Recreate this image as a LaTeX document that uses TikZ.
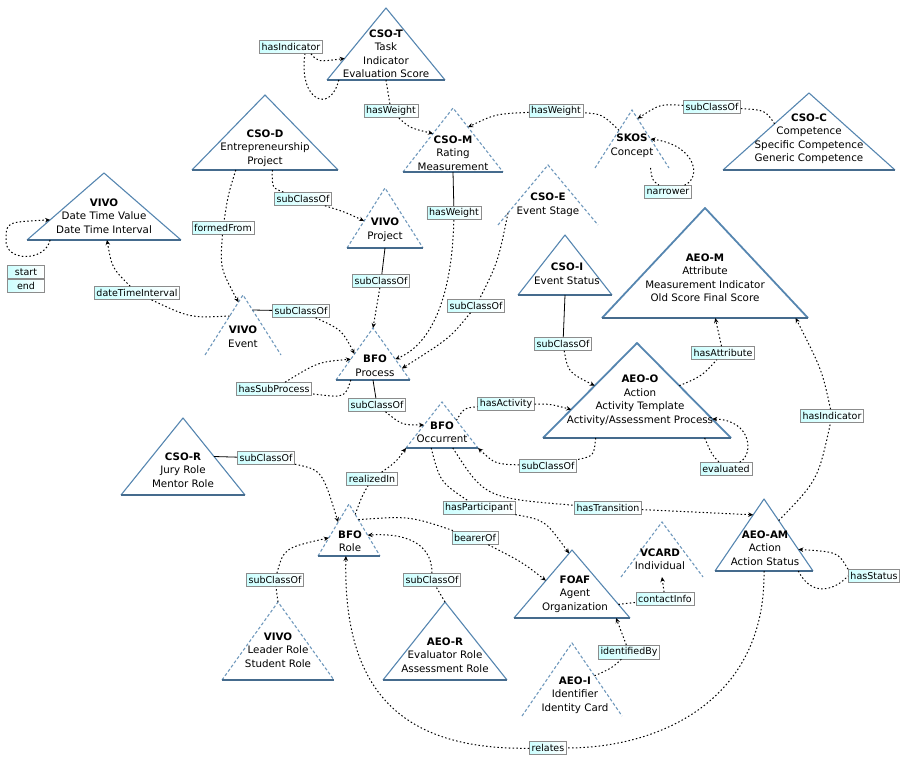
\documentclass[tikz,border=0pt]{standalone}
\usepackage{fontspec}
\setmainfont{DejaVu Sans}
\usetikzlibrary{arrows.meta, positioning, calc}

\definecolor{triblue}{RGB}{86,134,176}
\newcommand\trifont{\fontsize{10.3}{13.5}\selectfont}
\newcommand\lblfont{\fontsize{9.5}{11}\selectfont}
% triangle: name, x, base y, half width, height, style
\newcommand\ontri[6]{%
  \coordinate (#1-a) at (#2,#3-#5);
  \coordinate (#1-l) at (#2-#4,#3);
  \coordinate (#1-r) at (#2+#4,#3);
  \coordinate (#1-b) at (#2,#3);
  \draw[#6] (#1-l) -- (#1-a) -- (#1-r);
  \draw[#6 base] (#1-l) -- (#1-r);
}

\tikzset{
  tri solid/.style={draw=triblue, line width=1.1pt, line join=round},
  tri solid base/.style={draw=triblue!80!black, line width=2pt},
  tri bold/.style={draw=triblue, line width=1.8pt, line join=round},
  tri bold base/.style={draw=triblue!80!black, line width=2.6pt},
  tri dashed/.style={draw=triblue!85, line width=1.1pt, dash pattern=on 3pt off 2.2pt},
  tri dashed base/.style={draw=triblue!80!black, line width=2pt},
  tri open/.style={tri dashed},
  tri open base/.style={draw=none},
  tritext/.style={align=center, font=\trifont, inner sep=0pt},
  lbl/.style={draw=black!45, line width=.6pt, left color=cyan!20, right color=white,
    font=\lblfont, inner sep=2.2pt, minimum height=13pt},
  rel line/.style={line width=1pt, dash pattern=on 1.5pt off 2.3pt},
  rel/.style={rel line, -{Stealth[length=5pt,width=4.5pt]}},
  rel solid/.style={line width=.8pt},
}

\begin{document}
\begin{tikzpicture}[x=1pt, y=-1pt]
  \useasboundingbox (0,0) rectangle (905,759);

  % ontology modules
  \ontri{csot}{386}{80}{59}{72}{tri solid}
  \ontri{csod}{265}{170}{73}{75}{tri solid}
  \ontri{vivodt}{104}{240}{77}{67}{tri solid}
  \ontri{vivoproj}{385}{248}{38}{60}{tri dashed}
  \ontri{csom}{453}{172}{50}{64}{tri dashed}
  \ontri{skos}{632}{168}{37}{58}{tri open}
  \ontri{csoc}{809}{170}{86}{77}{tri solid}
  \ontri{csoe}{548}{225}{50}{60}{tri open}
  \ontri{csoi}{565}{295}{47}{60}{tri solid}
  \ontri{aeom}{705}{318}{103}{110}{tri bold}
  \ontri{vivoev}{243}{355}{38}{60}{tri open}
  \ontri{bfoproc}{373}{380}{37}{52}{tri dashed}
  \ontri{aeoo}{637}{438}{94}{95}{tri bold}
  \ontri{bfoocc}{442}{448}{36}{46}{tri dashed}
  \ontri{csor}{183}{495}{62}{77}{tri solid}
  \ontri{bforole}{349}{556}{31}{52}{tri dashed}
  \ontri{aeoam}{764}{571}{49}{72}{tri solid}
  \ontri{vcard}{662}{577}{41}{55}{tri open}
  \ontri{foaf}{572}{618}{58}{68}{tri solid}
  \ontri{vivorole}{278}{680}{56}{78}{tri dashed}
  \ontri{aeor}{445}{680}{62}{78}{tri solid}
  \ontri{aeoi}{572}{716}{50}{73}{tri open}

  \node[tritext] (csot) at (386,54) {\textbf{CSO-T}\\Task\\Indicator\\Evaluation Score};
  \node[tritext] (csod) at (265,148) {\textbf{CSO-D}\\Entrepreneurship\\Project};
  \node[tritext] (vivodt) at (104,216) {\textbf{VIVO}\\Date Time Value\\Date Time Interval};
  \node[tritext] (vivoproj) at (385,230) {\textbf{VIVO}\\Project};
  \node[tritext] (csom) at (453,153) {\textbf{CSO-M}\\Rating\\Measurement};
  \node[tritext] (skos) at (632,146) {\textbf{SKOS}\\Concept};
  \node[tritext] (csoc) at (809,139) {\textbf{CSO-C}\\Competence\\Specific Competence\\Generic Competence};
  \node[tritext] (csoe) at (548,205) {\textbf{CSO-E}\\Event Stage};
  \node[tritext] (csoi) at (567,274) {\textbf{CSO-I}\\Event Status};
  \node[tritext] (aeom) at (705,278) {\textbf{AEO-M}\\Attribute\\Measurement Indicator\\Old Score Final Score};
  \node[tritext] (vivoev) at (243,337) {\textbf{VIVO}\\Event};
  \node[tritext] (bfoproc) at (375,366) {\textbf{BFO}\\Process};
  \node[tritext] (aeoo) at (640,400) {\textbf{AEO-O}\\Action\\Activity Template\\Activity/Assessment Process};
  \node[tritext] (bfoocc) at (442,432) {\textbf{BFO}\\Occurrent};
  \node[tritext] (csor) at (183,470) {\textbf{CSO-R}\\Jury Role\\Mentor Role};
  \node[tritext] (bforole) at (350,541) {\textbf{BFO}\\Role};
  \node[tritext] (aeoam) at (765,548) {\textbf{AEO-AM}\\Action\\Action Status};
  \node[tritext] (vcard) at (660,559) {\textbf{VCARD}\\Individual};
  \node[tritext] (foaf) at (575,594) {\textbf{FOAF}\\Agent\\Organization};
  \node[tritext] (vivorole) at (278,650) {\textbf{VIVO}\\Leader Role\\Student Role};
  \node[tritext] (aeor) at (445,655) {\textbf{AEO-R}\\Evaluator Role\\Assessment Role};
  \node[tritext] (aeoi) at (575,695) {\textbf{AEO-I}\\Identifier\\Identity Card};

  % relation labels
  \node[lbl] (l-ind1) at (291,47) {hasIndicator};
  \node[lbl] (l-wt1) at (391,111) {hasWeight};
  \node[lbl] (l-wt2) at (556,111) {hasWeight};
  \node[lbl] (l-sub1) at (712,107) {subClassOf};
  \node[lbl] (l-narrow) at (668,192) {narrower};
  \node[lbl] (l-sub2) at (303,199) {subClassOf};
  \node[lbl] (l-formed) at (223,228) {formedFrom};
  \node[lbl] (l-wt3) at (454,213) {hasWeight};
  \node[lbl] (l-sub3) at (381,281) {subClassOf};
  \node[lbl] (l-sub4) at (476,306) {subClassOf};
  \node[lbl] (l-dti) at (137,293) {dateTimeInterval};
  \node[lbl] (l-sub5) at (301,311) {subClassOf};
  \node[lbl] (l-sub6) at (563,344) {subClassOf};
  \node[lbl] (l-attr) at (723,353) {hasAttribute};
  \node[lbl] (l-subproc) at (274,389) {hasSubProcess};
  \node[lbl] (l-sub7) at (377,405) {subClassOf};
  \node[lbl] (l-act) at (506,404) {hasActivity};
  \node[lbl] (l-sub8) at (548,466) {subClassOf};
  \node[lbl] (l-eval) at (726,469) {evaluated};
  \node[lbl] (l-ind2) at (832,416) {hasIndicator};
  \node[lbl] (l-sub9) at (266,458) {subClassOf};
  \node[lbl] (l-real) at (372,479) {realizedIn};
  \node[lbl] (l-part) at (479,508) {hasParticipant};
  \node[lbl] (l-trans) at (608,508) {hasTransition};
  \node[lbl] (l-bearer) at (475,538) {bearerOf};
  \node[lbl] (l-status) at (874,576) {hasStatus};
  \node[lbl] (l-sub10) at (275,580) {subClassOf};
  \node[lbl] (l-sub11) at (432,580) {subClassOf};
  \node[lbl] (l-contact) at (665,599) {contactInfo};
  \node[lbl] (l-ident) at (629,652) {identifiedBy};
  \node[lbl] (l-rel) at (548,748) {relates};
  \node[lbl, minimum width=37pt] (l-start) at (26,272) {start};
  \node[lbl, minimum width=37pt, below=0pt of l-start] (l-end) {end};

  % CSO-T
  \draw[rel line] ($(csot-l)!.1!(csot-r)$) .. controls (330,115) and (298,100) .. ($(l-ind1.south)+(14,0)$);
  \draw[rel] ($(l-ind1.south)+(20,0)$) .. controls (318,62) .. ($(csot-a)!.7!(csot-l)$);
  \draw[rel line] (csot-b) -- (l-wt1);
  \draw[rel] (l-wt1) .. controls (410,128) .. ($(csom-a)!.4!(csom-l)$);

  % SKOS and CSO-C
  \draw[rel line] ($(skos-a)!.35!(skos-l)$) .. controls (602,114) .. (l-wt2);
  \draw[rel] (l-wt2) .. controls (495,114) .. ($(csom-a)!.3!(csom-r)$);
  \draw[rel line] ($(csoc-a)!.4!(csoc-l)$) .. controls (765,110) .. (l-sub1);
  \draw[rel] (l-sub1) .. controls (660,104) .. ($(skos-a)!.15!(skos-r)$);
  \draw[rel line] ($(skos-l)!.75!(skos-r)$) .. controls (652,180) .. (l-narrow);
  \draw[rel] (l-narrow) .. controls (702,178) and (696,145) .. ($(skos-a)!.5!(skos-r)$);

  % VIVO date time loop
  \draw[rel] ($(vivodt-l)!.15!(vivodt-r)$) .. controls (45,262) and (5,262) .. (6,240)
    .. controls (6,222) .. ($(vivodt-a)!.7!(vivodt-l)$);

  % CSO-D
  \draw[rel line] ($(csod-l)!.55!(csod-r)$) .. controls (272,188) .. (l-sub2);
  \draw[rel] (l-sub2) .. controls (345,212) .. ($(vivoproj-a)!.55!(vivoproj-l)$);
  \draw[rel line] ($(csod-l)!.3!(csod-r)$) .. controls (228,195) .. (l-formed);
  \draw[rel] (l-formed) .. controls (220,268) .. ($(vivoev-a)!.12!(vivoev-l)$);

  % into BFO process
  \draw[rel solid] (csom-b) -- (l-wt3);
  \draw[rel] (l-wt3) .. controls (452,300) and (430,345) .. ($(bfoproc-a)!.6!(bfoproc-r)$);
  \draw[rel solid] (vivoproj-b) -- (l-sub3);
  \draw[rel] (l-sub3) -- (bfoproc-a);
  \draw[rel line] ($(csoe-a)!.8!(csoe-l)$) .. controls (498,262) .. (l-sub4);
  \draw[rel] (l-sub4) .. controls (450,338) .. ($(bfoproc-a)!.78!(bfoproc-r)$);
  \draw[rel line] ($(vivoev-a)!.35!(vivoev-l)$) .. controls (190,318) .. (l-dti);
  \draw[rel] (l-dti) .. controls (112,268) .. ($(vivodt-b)+(3,0)$);
  \draw[rel solid] ($(vivoev-a)!.25!(vivoev-r)$) -- (l-sub5);
  \draw[rel] (l-sub5) .. controls (342,330) .. ($(bfoproc-a)!.5!(bfoproc-l)$);
  \draw[rel line] ($(bfoproc-l)!.2!(bfoproc-r)$) .. controls (345,398) .. (l-subproc);
  \draw[rel] (l-subproc) .. controls (318,362) .. ($(bfoproc-a)!.6!(bfoproc-l)$);
  \draw[rel solid] (bfoproc-b) -- (l-sub7);
  \draw[rel] (l-sub7) .. controls (402,425) .. ($(bfoocc-a)!.5!(bfoocc-l)$);

  % AEO-O and AEO-M
  \draw[rel solid] (csoi-b) -- (l-sub6);
  \draw[rel] (l-sub6) .. controls (568,372) .. ($(aeoo-a)!.45!(aeoo-l)$);
  \draw[rel line] ($(aeoo-a)!.45!(aeoo-r)$) .. controls (702,376) .. (l-attr);
  \draw[rel] (l-attr) -- ($(aeom-l)!.55!(aeom-r)$);
  \draw[rel line] ($(aeoo-l)!.86!(aeoo-r)$) .. controls (712,455) .. (l-eval);
  \draw[rel] (l-eval) .. controls (754,455) and (752,420) .. ($(aeoo-a)!.8!(aeoo-r)$);
  \draw[rel line] ($(aeoam-a)!.3!(aeoam-r)$) .. controls (818,480) .. (l-ind2);
  \draw[rel] (l-ind2) .. controls (822,370) .. ($(aeom-l)!.94!(aeom-r)$);
  \draw[rel line] ($(aeoam-l)!.85!(aeoam-r)$) .. controls (812,598) and (835,590) .. (l-status.west);
  \draw[rel] (l-status.north west) .. controls (838,552) .. ($(aeoam-a)!.7!(aeoam-r)$);

  % BFO occurrent
  \draw[rel line] ($(bfoocc-a)!.4!(bfoocc-r)$) .. controls (464,408) .. (l-act);
  \draw[rel] (l-act) .. controls (550,404) .. ($(aeoo-a)!.7!(aeoo-l)$);
  \draw[rel line] ($(aeoo-l)!.28!(aeoo-r)$) .. controls (594,456) .. (l-sub8);
  \draw[rel] (l-sub8) .. controls (495,464) .. (bfoocc-r);
  \draw[rel line] ($(bfoocc-l)!.35!(bfoocc-r)$) .. controls (440,482) .. (l-part);
  \draw[rel] (l-part) .. controls (545,520) .. ($(foaf-a)!.05!(foaf-l)$);
  \draw[rel line] ($(bfoocc-l)!.65!(bfoocc-r)$) .. controls (485,498) .. (l-trans);
  \draw[rel] (l-trans) -- ($(aeoam-a)!.22!(aeoam-l)$);

  % roles
  \draw[rel line] ($(bforole-a)!.2!(bforole-r)$) .. controls (362,496) .. (l-real);
  \draw[rel] (l-real) .. controls (396,462) .. (bfoocc-l);
  \draw[rel solid] ($(csor-a)!.5!(csor-r)$) -- (l-sub9);
  \draw[rel] (l-sub9) .. controls (322,470) .. ($(bforole-a)!.35!(bforole-l)$);
  \draw[rel line] (vivorole-a) -- (l-sub10);
  \draw[rel] (l-sub10) .. controls (284,548) .. ($(bforole-a)!.65!(bforole-l)$);
  \draw[rel line] (aeor-a) -- (l-sub11);
  \draw[rel] (l-sub11) .. controls (432,540) and (400,533) .. ($(bforole-a)!.6!(bforole-r)$);
  \draw[rel line] ($(bforole-a)!.3!(bforole-r)$) .. controls (410,516) .. (l-bearer);
  \draw[rel] (l-bearer) .. controls (522,562) .. ($(foaf-a)!.45!(foaf-l)$);
  \draw[rel line] (aeoam-b) .. controls (766,700) and (660,748) .. (l-rel);
  \draw[rel] (l-rel) .. controls (400,750) and (343,690) .. ($(bforole-l)!.45!(bforole-r)$);

  % FOAF
  \draw[rel line] ($(foaf-a)!.8!(foaf-r)$) -- (l-contact);
  \draw[rel] (l-contact) -- (vcard-b);
  \draw[rel line] ($(aeoi-a)!.45!(aeoi-r)$) .. controls (612,668) .. (l-ident);
  \draw[rel] (l-ident) -- ($(foaf-l)!.88!(foaf-r)$);
\end{tikzpicture}
\end{document}
